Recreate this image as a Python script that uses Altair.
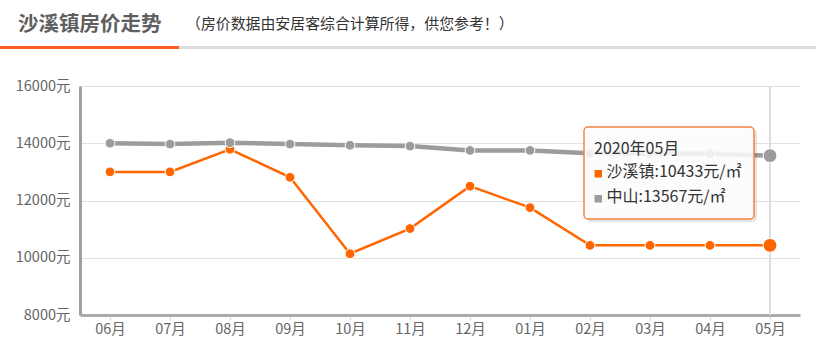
import altair as alt
import pandas as pd

# ---------------- data ----------------
months = ["06月", "07月", "08月", "09月", "10月", "11月", "12月", "01月", "02月", "03月", "04月", "05月"]
shaxi = [13000, 13000, 13790, 12810, 10140, 11020, 12500, 11750, 10433, 10433, 10433, 10433]
zhongshan = [14000, 13970, 14020, 13970, 13930, 13900, 13750, 13750, 13650, 13640, 13630, 13567]
series_names = ["沙溪镇", "中山"]
series_colors = ["#ff6600", "#9c9c9c"]
y_ticks = [8000, 10000, 12000, 14000, 16000]
title_text = "沙溪镇房价走势"
subtitle_text = "（房价数据由安居客综合计算所得，供您参考！）"
tooltip_title = "2020年05月"
unit = "元/㎡"

FONT = "Noto Sans CJK SC"
W, H = 720, 229

df = pd.DataFrame({
    "month": months * 2,
    "price": shaxi + zhongshan,
    "series": [series_names[0]] * len(months) + [series_names[1]] * len(months),
})

x_enc = alt.X(
    "month:O",
    sort=months,
    scale=alt.Scale(type="point", padding=0.5, domain=months),
    axis=alt.Axis(
        title=None, labelAngle=0, labelAlign="center", labelBaseline="top",
        labelFontSize=14.5, labelColor="#666", labelFont=FONT,
        domainColor="#aaaaaa", domainWidth=3, tickColor="#cfd8e3", tickSize=5, tickWidth=1,
        labelPadding=2, grid=False, labelOverlap=False, labelFlush=False,
    ),
)
y_enc = alt.Y(
    "price:Q",
    scale=alt.Scale(domain=[8000, 16000], nice=False, zero=False),
    axis=alt.Axis(
        title=None, values=y_ticks, labelExpr="datum.value + '元'",
        labelFontSize=14.5, labelColor="#666", labelFont=FONT, labelPadding=10,
        ticks=False, domainColor="#a0a0a0", domainWidth=3,
        grid=True, gridColor="#e2e2e2", gridWidth=1,
    ),
)

base = alt.Chart(df)

# crosshair at the hovered month
cross = base.transform_filter(
    (alt.datum.month == months[-1]) & (alt.datum.series == series_names[0])
).mark_rule(color="#dddddd", strokeWidth=2).encode(x=x_enc, y=alt.value(0), y2=alt.value(H))

def series_layers(idx, width):
    name = series_names[idx]
    col = series_colors[idx]
    d = base.transform_filter(alt.datum.series == name)
    line = d.mark_line(color=col, strokeWidth=width).encode(x=x_enc, y=y_enc)
    pts = d.transform_filter(alt.datum.month != months[-1]).mark_point(
        filled=True, shape="circle", size=95, color=col, stroke="white", strokeWidth=1, opacity=1
    ).encode(x=x_enc, y=y_enc)
    last = d.transform_filter(alt.datum.month == months[-1]).mark_point(
        filled=True, shape="circle", size=190, color=col, stroke="white", strokeWidth=1, opacity=1
    ).encode(x=x_enc, y=y_enc)
    return [line, pts, last]

one = pd.DataFrame({"k": [0]})

# header
title = alt.Chart(pd.DataFrame({"t": [title_text]})).mark_text(
    font=FONT, fontSize=20.5, fontWeight="bold", color="#5f5f5f", align="left", baseline="middle"
).encode(text="t:N", x=alt.value(-62), y=alt.value(-61))
subtitle = alt.Chart(pd.DataFrame({"t": [subtitle_text]})).mark_text(
    font=FONT, fontSize=14.9, color="#333333", align="left", baseline="middle"
).encode(text="t:N", x=alt.value(106), y=alt.value(-61))
rule_grey = alt.Chart(one).mark_rule(color="#dddddd", strokeWidth=3).encode(
    x=alt.value(99), x2=alt.value(736), y=alt.value(-38.5))
rule_orange = alt.Chart(one).mark_rule(color="#ff5b22", strokeWidth=3).encode(
    x=alt.value(-80), x2=alt.value(99), y=alt.value(-38.5))

# tooltip
tip_shadow = alt.Chart(one).mark_rect(fill="#000000", opacity=0.10, cornerRadius=5).encode(
    x=alt.value(506), x2=alt.value(677), y=alt.value(43), y2=alt.value(136))
tip_box = alt.Chart(one).mark_rect(
    fill="white", fillOpacity=0.86, stroke="#f5823f", strokeWidth=1.5, cornerRadius=4
).encode(x=alt.value(504), x2=alt.value(674), y=alt.value(41), y2=alt.value(133))
tip_title = alt.Chart(pd.DataFrame({"t": [tooltip_title]})).mark_text(
    font=FONT, fontSize=16, color="#333333", align="left", baseline="middle"
).encode(text="t:N", x=alt.value(514), y=alt.value(62.5))
tip_rows = pd.DataFrame({
    "t": [f"{series_names[0]}:{shaxi[-1]}{unit}", f"{series_names[1]}:{zhongshan[-1]}{unit}"],
})
tip_row1 = alt.Chart(tip_rows.iloc[[0]]).mark_text(
    font=FONT, fontSize=16, color="#333333", align="left", baseline="middle"
).encode(text="t:N", x=alt.value(526.5), y=alt.value(86))
tip_row2 = alt.Chart(tip_rows.iloc[[1]]).mark_text(
    font=FONT, fontSize=16, color="#333333", align="left", baseline="middle"
).encode(text="t:N", x=alt.value(526.5), y=alt.value(111))
sq1 = alt.Chart(one).mark_rect(fill=series_colors[0]).encode(
    x=alt.value(514.5), x2=alt.value(522), y=alt.value(84), y2=alt.value(91.5))
sq2 = alt.Chart(one).mark_rect(fill=series_colors[1]).encode(
    x=alt.value(514.5), x2=alt.value(522), y=alt.value(109), y2=alt.value(116.5))

layers = [cross] + series_layers(0, 2.5) + series_layers(1, 4.5) + [
    tip_shadow, tip_box, tip_title, sq1, tip_row1, sq2, tip_row2,
    rule_grey, rule_orange, title, subtitle,
]

chart = alt.layer(*layers).properties(
    width=W, height=H,
    autosize=alt.AutoSizeParams(type="none"),
    padding={"left": 80, "top": 86, "right": 16, "bottom": 38},
    background="white",
).configure_view(stroke=None)

chart.save("out.html", embed_options={"renderer": "svg", "actions": False})
